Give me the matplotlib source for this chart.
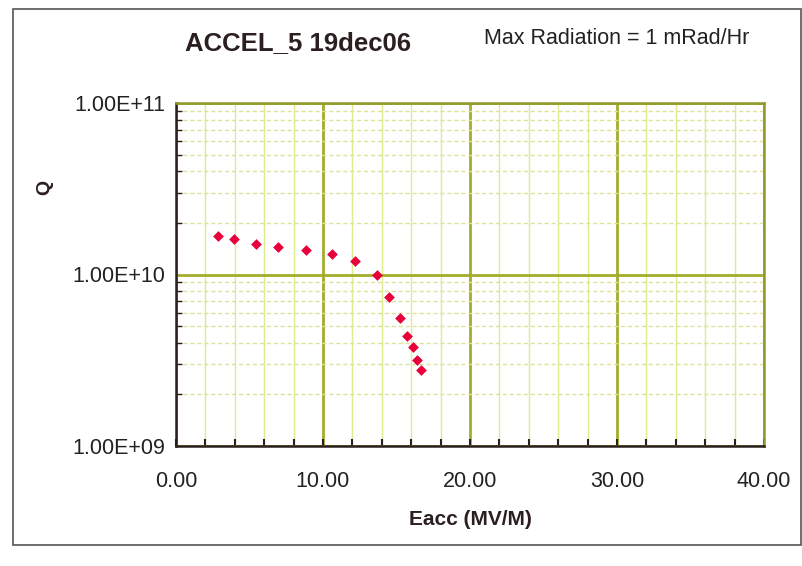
import matplotlib
matplotlib.use("Agg")
import matplotlib.pyplot as plt
from matplotlib.ticker import FixedLocator, LogLocator, NullFormatter, FuncFormatter
from matplotlib.patches import Rectangle

plt.rcParams['font.family'] = ['Liberation Sans', 'DejaVu Sans']

title = "ACCEL_5 19dec06"
note = "Max Radiation = 1 mRad/Hr"
xlabel = "Eacc (MV/M)"
ylabel = "Q"

eacc = [2.88, 3.97, 5.44, 6.92, 8.82, 10.61, 12.15, 13.65, 14.50, 15.24, 15.71, 16.12, 16.40, 16.69]
q = [1.68e10, 1.61e10, 1.50e10, 1.45e10, 1.39e10, 1.31e10, 1.20e10, 1.00e10,
     7.37e9, 5.56e9, 4.35e9, 3.77e9, 3.16e9, 2.78e9]

x_major = [0, 10, 20, 30, 40]
x_minor = [2, 4, 6, 8, 12, 14, 16, 18, 22, 24, 26, 28, 32, 34, 36, 38]
y_major = [1e9, 1e10, 1e11]

W, H = 803, 566
fig = plt.figure(figsize=(W / 100, H / 100), dpi=100)
fig.patch.set_facecolor('white')

# outer frame
fig.add_artist(Rectangle((13 / W, 1 - 545 / H), (801 - 13) / W, (545 - 9) / H,
                         transform=fig.transFigure, fill=False, edgecolor='#555555', lw=1.2))

ax = fig.add_axes([176 / W, 1 - 446 / H, (764 - 176) / W, (446 - 103) / H])
ax.set_yscale('log')
ax.set_xlim(0, 40)
ax.set_ylim(1e9, 1e11)

olive = '#a3ad2c'
ax.xaxis.set_major_locator(FixedLocator(x_major))
ax.xaxis.set_minor_locator(FixedLocator(x_minor))
ax.yaxis.set_major_locator(FixedLocator(y_major))
ax.yaxis.set_minor_locator(LogLocator(base=10, subs=range(2, 10)))
ax.yaxis.set_minor_formatter(NullFormatter())
ax.xaxis.set_major_formatter(FuncFormatter(lambda v, p: f"{v:.2f}"))
ax.yaxis.set_major_formatter(FuncFormatter(lambda v, p: f"{v:.2E}"))

ax.grid(which='major', axis='both', color=olive, lw=2.0)
ax.grid(which='minor', axis='x', color='#e0ea8e', lw=1.0)
ax.grid(which='minor', axis='y', color='#dce49a', lw=1.0, ls=(0, (3, 2)))
ax.set_axisbelow(True)

ax.scatter(eacc, q, marker='D', s=30, color='#e8003a', zorder=5, linewidths=0)

for s in ['top', 'right']:
    ax.spines[s].set_color('#8f9a2a')
    ax.spines[s].set_linewidth(1.8)
for s in ['left', 'bottom']:
    ax.spines[s].set_color('#2b1f1f')
    ax.spines[s].set_linewidth(1.8)

ax.tick_params(axis='x', which='both', direction='in', length=5, width=1.5, color='#2b1f1f',
               labelsize=15.5, pad=18, top=False)
ax.tick_params(axis='y', which='major', direction='in', length=0, labelsize=15.5, pad=8, colors='#222222')
ax.tick_params(axis='y', which='minor', direction='in', length=4, width=1.0, color='#2b1f1f')
ax.tick_params(axis='x', which='major', labelcolor='#222222')

ax.set_xlabel(xlabel, fontsize=15, fontweight='bold', labelpad=13, color='#2b1f1f')
fig.text(45 / W, 1 - 187 / H, ylabel, fontsize=14, fontweight='bold', rotation=90,
         ha='center', va='center', color='#2b1f1f')

fig.text(298 / W, 1 - 43 / H, title, fontsize=18.5, fontweight='bold', ha='center', va='center',
         color='#2b1f1f')
fig.text(617 / W, 1 - 39 / H, note, fontsize=15.5, ha='center', va='center', color='#222222')

fig.savefig('out.png', dpi=100, facecolor='white')
